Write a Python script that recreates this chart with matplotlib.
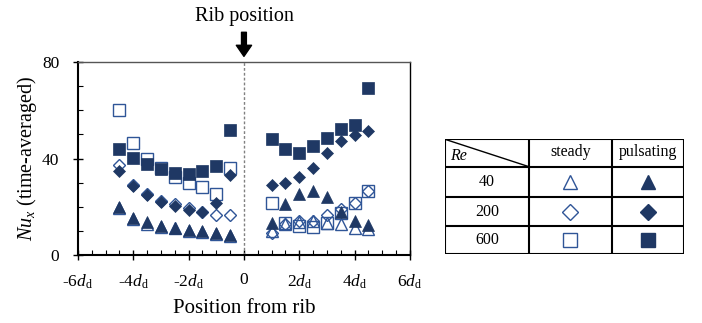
import matplotlib.pyplot as plt
import numpy as np

plt.rcParams['font.family'] = 'Liberation Serif'
plt.rcParams['mathtext.fontset'] = 'custom'
plt.rcParams['mathtext.rm'] = 'Liberation Serif'
plt.rcParams['mathtext.it'] = 'Liberation Serif:italic'

# Data: positions upstream / downstream of the rib (in units of d_d)
x_left = [-4.5, -4.0, -3.5, -3.0, -2.5, -2.0, -1.5, -1.0, -0.5]
x_right = [1.0, 1.5, 2.0, 2.5, 3.0, 3.5, 4.0, 4.5]

# steady
st40_l = [19.5, 15.0, 13.0, 11.8, 11.0, 10.0, 9.5, 8.8, 7.8]
st40_r = [10.0, 12.9, 13.8, 14.1, 13.1, 12.7, 11.3, 10.8]
st200_l = [37.3, 29.0, 25.5, 22.5, 21.0, 19.5, 18.0, 16.5, 16.4]
st200_r = [9.0, 12.9, 14.1, 14.2, 16.6, 19.0, 21.6, 26.7]
st600_l = [60.2, 46.6, 39.7, 36.0, 32.5, 30.0, 28.1, 25.3, 36.0]
st600_r = [21.7, 13.1, 12.0, 11.5, 13.1, 17.6, 21.6, 26.6]

# pulsating
pu40_l = [20.0, 15.5, 13.6, 12.2, 11.3, 10.4, 10.0, 9.3, 8.2]
pu40_r = [13.4, 21.0, 25.3, 26.7, 24.2, 17.7, 14.2, 12.3]
pu200_l = [34.7, 28.8, 24.9, 22.1, 20.2, 18.7, 18.0, 21.4, 33.2]
pu200_r = [29.0, 29.7, 32.2, 36.1, 42.3, 47.2, 49.8, 51.6]
pu600_l = [44.0, 40.4, 37.6, 35.5, 34.2, 33.5, 35.0, 37.0, 52.0]
pu600_r = [48.1, 44.0, 42.3, 45.2, 48.7, 52.3, 54.1, 69.4]

re_labels = ['40', '200', '600']
xtick_vals = [-6, -4, -2, 0, 2, 4, 6]
xtick_labels = [r'-6$d_{\mathrm{d}}$', r'-4$d_{\mathrm{d}}$', r'-2$d_{\mathrm{d}}$', '0',
                r'2$d_{\mathrm{d}}$', r'4$d_{\mathrm{d}}$', r'6$d_{\mathrm{d}}$']

dark = '#1F3864'
light = '#2F5597'
markers = ['^', 'D', 's']
msizes = [8, 6.5, 8.5]

fig = plt.figure(figsize=(7.02, 3.23), dpi=100)
ax = fig.add_axes([0.111, 0.2105, 0.473, 0.597])

steady = [(st40_l, st40_r), (st200_l, st200_r), (st600_l, st600_r)]
pulsating = [(pu40_l, pu40_r), (pu200_l, pu200_r), (pu600_l, pu600_r)]

for (l, r), m, s in zip(steady, markers, msizes):
    ax.plot(x_left + x_right, l + r, ls='none', marker=m, ms=s,
            mfc='none', mec=light, mew=1.0)
for (l, r), m, s in zip(pulsating, markers, msizes):
    ax.plot(x_left + x_right, l + r, ls='none', marker=m, ms=s,
            mfc=dark, mec=dark, mew=0.5)

ax.axvline(0, color='gray', ls=(0, (2, 1.5)), lw=1.0)

ax.set_xlim(-6, 6)
ax.set_ylim(0, 80)
ax.set_xticks(xtick_vals)
ax.set_xticklabels(xtick_labels)
ax.set_xticks(np.arange(-6, 6.01, 0.5), minor=True)
ax.set_yticks([0, 40, 80])
ax.set_yticks(np.arange(0, 81, 10), minor=True)
ax.tick_params(which='major', direction='inout', length=7, width=1, labelsize=12.5)
ax.tick_params(which='minor', direction='in', length=3.5, width=0.8)
ax.tick_params(axis='x', which='major', pad=9)
ax.tick_params(axis='y', which='major', pad=10)
for sp in ax.spines.values():
    sp.set_linewidth(1.0)
ax.spines['left'].set_linewidth(1.5)
ax.spines['bottom'].set_linewidth(1.5)
ax.spines['top'].set_color('#555555')

ax.set_xlabel('Position from rib', fontsize=15, labelpad=6)
ax.set_ylabel(r'$Nu_x$ (time-averaged)', fontsize=14.5, labelpad=2)

# rib position marker
ax.text(0, 1.235, 'Rib position', transform=ax.get_xaxis_transform(),
        ha='center', va='center', fontsize=14.5)
ax.annotate('', xy=(0, 1.03), xytext=(0, 1.155), xycoords=ax.get_xaxis_transform(),
            textcoords=ax.get_xaxis_transform(),
            arrowprops=dict(facecolor='black', edgecolor='black', width=3.5,
                            headwidth=11, headlength=8), annotation_clip=False)

# legend table
tab = fig.add_axes([445 / 702, 1 - 254.3 / 323, (684 - 445) / 702, (254.3 - 139.3) / 323])
tab.set_xlim(445, 684)
tab.set_ylim(254.3, 139.3)
tab.axis('off')
col_x = [445, 529, 612, 684]
row_y = [139.3, 166.7, 197.3, 226, 254.3]
for cx in col_x:
    tab.plot([cx, cx], [row_y[0], row_y[-1]], color='black', lw=1.5)
for ry in row_y:
    tab.plot([col_x[0], col_x[-1]], [ry, ry], color='black', lw=1.5)
tab.plot([col_x[0], col_x[1]], [row_y[0], row_y[1]], color='black', lw=1.0)
tab.text(col_x[0] + 5, row_y[1] - 3, 'Re', style='italic', fontsize=11.5,
         ha='left', va='bottom')
tab.text((col_x[1] + col_x[2]) / 2, (row_y[0] + row_y[1]) / 2 - 1, 'steady',
         ha='center', va='center', fontsize=11.5)
tab.text((col_x[2] + col_x[3]) / 2, (row_y[0] + row_y[1]) / 2 - 1, 'pulsating',
         ha='center', va='center', fontsize=11.5)
for i, (lab, m, s) in enumerate(zip(re_labels, markers, msizes)):
    cy = (row_y[i + 1] + row_y[i + 2]) / 2
    tab.text((col_x[0] + col_x[1]) / 2, cy, lab, ha='center', va='center', fontsize=11.5)
    tab.plot((col_x[1] + col_x[2]) / 2, cy, marker=m, ms=s * 1.25, mfc='none', mec=light, mew=1.0)
    tab.plot((col_x[2] + col_x[3]) / 2, cy, marker=m, ms=s * 1.25, mfc=dark, mec=dark)

fig.savefig('out.png', dpi=100)
